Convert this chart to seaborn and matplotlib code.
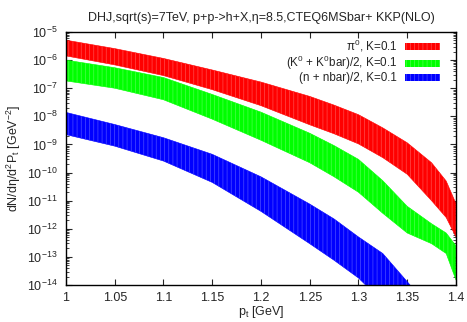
import numpy as np
import matplotlib
matplotlib.use("Agg")
import matplotlib.pyplot as plt
import matplotlib.ticker as mticker
import seaborn as sns

# --- datos (exponentes log10) ---
pt = [1.00, 1.05, 1.10, 1.15, 1.20, 1.25, 1.275, 1.30, 1.325, 1.35, 1.375, 1.39, 1.40]

pi_hi = [-5.29, -5.59, -5.94, -6.35, -6.78, -7.29, -7.60, -7.94, -8.41, -8.94, -9.65, -10.30, -11.10]
pi_lo = [-5.85, -6.17, -6.55, -7.05, -7.62, -8.30, -8.62, -8.98, -9.47, -10.06, -11.00, -11.60, -12.29]

k_hi = [-6.00, -6.27, -6.62, -7.22, -7.85, -8.60, -9.04, -9.53, -10.29, -11.20, -11.82, -12.15, -12.60]
k_lo = [-6.74, -7.00, -7.41, -8.10, -8.85, -9.65, -10.15, -10.70, -11.45, -12.15, -12.53, -12.88, -13.82]

n_hi = [-7.86, -8.29, -8.76, -9.35, -10.15, -11.12, -11.65, -12.29, -12.88, -13.88, -14.90, -15.50, -16.00]
n_lo = [-8.65, -9.06, -9.59, -10.35, -11.38, -12.53, -13.12, -13.75, -14.60, -15.50, -16.40, -16.90, -17.30]

labels = [r"$\pi^0$, K=0.1", r"(K$^0$ + K$^0$bar)/2, K=0.1", r"(n + nbar)/2, K=0.1"]
colors = ["#ff0000", "#00ff00", "#0000ff"]

sns.set_style("ticks")
plt.rcParams["font.family"] = ["Liberation Sans", "DejaVu Sans"]
plt.rcParams["mathtext.fontset"] = "custom"
plt.rcParams["mathtext.rm"] = "Liberation Sans"
plt.rcParams["mathtext.it"] = "Liberation Sans"
plt.rcParams["mathtext.default"] = "regular"
plt.rcParams["hatch.linewidth"] = 0.5

fig = plt.figure(figsize=(4.67, 3.22), dpi=100)
ax = fig.add_axes([0.1413, 0.1149, 0.835, 0.7857])

bandas = [(pi_lo, pi_hi), (k_lo, k_hi), (n_lo, n_hi)]
for (lo, hi), col, lab in zip(bandas, colors, labels):
    lo = 10.0 ** np.array(lo)
    hi = 10.0 ** np.array(hi)
    ax.fill_between(pt, lo, hi, facecolor=col, edgecolor=(1, 1, 1, 0.3),
                    linewidth=0, hatch="||||", label=lab)
    sns.lineplot(x=pt, y=hi, color=col, linewidth=0.4, ax=ax, legend=False)
    sns.lineplot(x=pt, y=lo, color=col, linewidth=0.4, ax=ax, legend=False)

ax.set_yscale("log")
ax.set_xlim(1.0, 1.4)
ax.set_ylim(1e-14, 1e-5)
ax.set_xticks(np.arange(1.0, 1.401, 0.05))
ax.xaxis.set_major_formatter(mticker.FormatStrFormatter("%g"))
ax.yaxis.set_major_locator(mticker.LogLocator(base=10, numticks=20))
ax.yaxis.set_minor_locator(mticker.LogLocator(base=10, subs=np.arange(2, 10), numticks=20))
ax.yaxis.set_minor_formatter(mticker.NullFormatter())
ax.tick_params(which="both", direction="in", top=True, right=True, labelsize=9)
ax.tick_params(axis="x", pad=5)
ax.tick_params(axis="y", pad=6)
ax.tick_params(which="major", length=4, width=0.8)
ax.tick_params(which="minor", length=2, width=0.6)
for s in ax.spines.values():
    s.set_linewidth(1.0)
    s.set_color("black")

ax.set_title("DHJ,sqrt(s)=7TeV, p+p->h+X,\u03b7=8.5,CTEQ6MSbar+ KKP(NLO)", fontsize=9, pad=8)
ax.set_xlabel(r"p$_t$ [GeV]", fontsize=9, labelpad=0)
ax.set_ylabel(r"dN/d$\eta$/d$^2$P$_t$ [GeV$^{-2}$]", fontsize=9, labelpad=3)

leg = ax.legend(loc="upper right", bbox_to_anchor=(0.975, 1.0), frameon=False,
                fontsize=8.4, markerfirst=False,
                handlelength=3.0, handleheight=0.55, labelspacing=0.0,
                handletextpad=0.7, borderaxespad=0.3, borderpad=0.2)
for col in leg._legend_handle_box.get_children():
    col.align = "right"

fig.savefig("out.png", dpi=100)
